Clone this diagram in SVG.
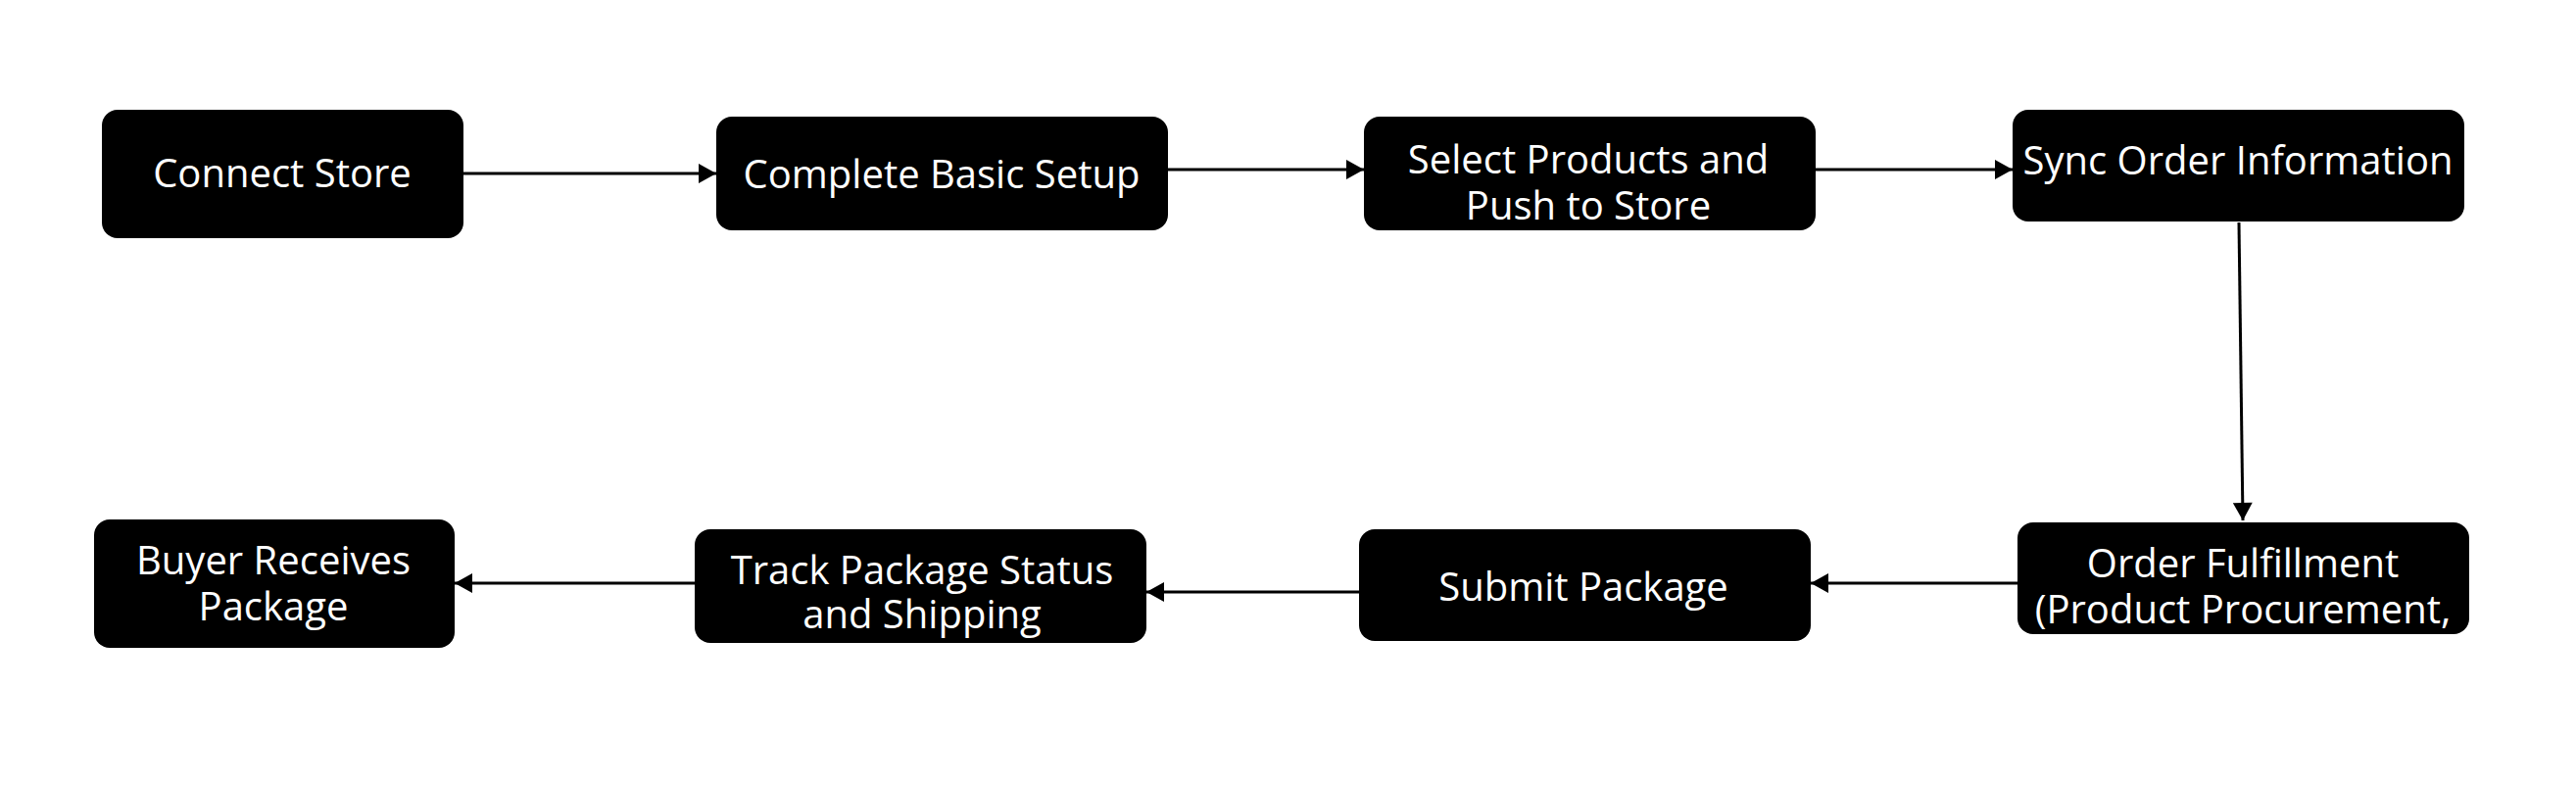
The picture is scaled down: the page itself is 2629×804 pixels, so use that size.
<svg xmlns="http://www.w3.org/2000/svg" width="2629" height="804" viewBox="0 0 2629 804">
<defs>
<marker id="ah" markerUnits="userSpaceOnUse" markerWidth="20" markerHeight="20" viewBox="0 0 18 20" refX="18" refY="10" orient="auto">
<path d="M0,0 L18,10 L0,20 Z" fill="#000"/>
</marker>
<style>
.box{fill:#000;}
.t{fill:#fff;font-family:"Open Sans","Noto Sans",sans-serif;font-size:40px;text-anchor:middle;}
.c{fill:none;stroke:#000;stroke-width:3;marker-end:url(#ah);}
</style>
</defs>
<rect width="2629" height="804" fill="#fff"/>
<g id="connectors">
<path class="c" d="M473,177 L731,177"/>
<path class="c" d="M1192,173 L1392,173"/>
<path class="c" d="M1853,173 L2054,173"/>
<path class="c" d="M2285,227 L2289,531"/>
<path class="c" d="M2059,595 L1848,595"/>
<path class="c" d="M1387,604 L1170,604"/>
<path class="c" d="M709,595 L464,595"/>
</g>
<g id="n1"><rect class="box" x="104" y="112" width="369" height="131" rx="16"/><text class="t" x="288" y="191">Connect Store</text></g>
<g id="n2"><rect class="box" x="731" y="119" width="461" height="116" rx="16"/><text class="t" x="961" y="192">Complete Basic Setup</text></g>
<g id="n3"><rect class="box" x="1392" y="119" width="461" height="116" rx="16"/><text class="t" x="1621" y="177">Select Products and</text><text class="t" x="1621" y="224">Push to Store</text></g>
<g id="n4"><rect class="box" x="2054" y="112" width="461" height="114" rx="16"/><text class="t" x="2284" y="178">Sync Order Information</text></g>
<g id="n5"><rect class="box" x="2059" y="533" width="461" height="114" rx="16"/><text class="t" x="2289" y="589">Order Fulfillment</text><text class="t" x="2289" y="636">(Product Procurement,</text></g>
<g id="n6"><rect class="box" x="1387" y="540" width="461" height="114" rx="16"/><text class="t" x="1616" y="613">Submit Package</text></g>
<g id="n7"><rect class="box" x="709" y="540" width="461" height="116" rx="16"/><text class="t" x="941" y="596">Track Package Status</text><text class="t" x="941" y="641">and Shipping</text></g>
<g id="n8"><rect class="box" x="96" y="530" width="368" height="131" rx="16"/><text class="t" x="279" y="586">Buyer Receives</text><text class="t" x="279" y="633">Package</text></g>
</svg>
